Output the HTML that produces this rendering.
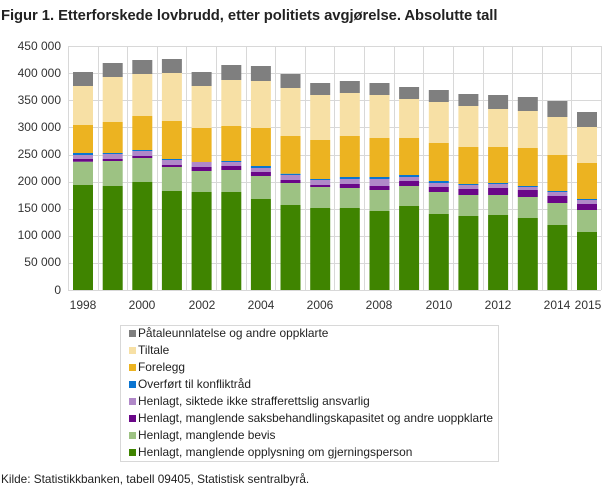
<!DOCTYPE html>
<html><head><meta charset="utf-8"><style>
body{margin:0;background:#fff;width:609px;height:488px;overflow:hidden;font-family:"Liberation Sans",sans-serif;}
</style></head><body>
<svg id="s" width="609" height="488" xmlns="http://www.w3.org/2000/svg" font-family="Liberation Sans, sans-serif">
<text x="1" y="20" font-size="14.8" font-weight="bold" fill="#222" letter-spacing="-0.05">Figur 1. Etterforskede lovbrudd, etter politiets avgjørelse. Absolutte tall</text>
<g id="grid" stroke="#d8d8d8" stroke-width="1"></g>
<g id="bars"></g>
<g font-size="12" fill="#333" text-anchor="end">
<text x="61" y="50">450 000</text><text x="61" y="77">400 000</text><text x="61" y="104">350 000</text><text x="61" y="131">300 000</text><text x="61" y="158">250 000</text><text x="61" y="185">200 000</text><text x="61" y="212">150 000</text><text x="61" y="239">100 000</text><text x="61" y="266">50 000</text><text x="61" y="294">0</text>
</g>
<g font-size="12" fill="#333" text-anchor="middle">
<text x="83" y="309">1998</text><text x="142" y="309">2000</text><text x="202" y="309">2002</text><text x="261" y="309">2004</text><text x="320" y="309">2006</text><text x="379" y="309">2008</text><text x="439" y="309">2010</text><text x="498" y="309">2012</text><text x="557" y="309">2014</text><text x="588" y="309">2015</text>
</g>
<rect x="120.5" y="325.5" width="378" height="136" fill="#fff" stroke="#d8d8d8"/>
<g font-size="11.9" fill="#222">
<rect x="129" y="330" width="7" height="7" fill="#7f7f7f"/><text x="138" y="337">Påtaleunnlatelse og andre oppklarte</text>
<rect x="129" y="347" width="7" height="7" fill="#f7e0a5"/><text x="138" y="354">Tiltale</text>
<rect x="129" y="364" width="7" height="7" fill="#ecb321"/><text x="138" y="371">Forelegg</text>
<rect x="129" y="381" width="7" height="7" fill="#0a74d0"/><text x="138" y="388">Overført til konfliktråd</text>
<rect x="129" y="398" width="7" height="7" fill="#b088c8"/><text x="138" y="405">Henlagt, siktede ikke strafferettslig ansvarlig</text>
<rect x="129" y="415" width="7" height="7" fill="#6a0788"/><text x="138" y="422">Henlagt, manglende saksbehandlingskapasitet og andre uoppklarte</text>
<rect x="129" y="432" width="7" height="7" fill="#9dc283"/><text x="138" y="439">Henlagt, manglende bevis</text>
<rect x="129" y="449" width="7" height="7" fill="#3f8400"/><text x="138" y="456">Henlagt, manglende opplysning om gjerningsperson</text>
</g>
<text x="1" y="483" font-size="11.8" fill="#222">Kilde: Statistikkbanken, tabell 09405, Statistisk sentralbyrå.</text>
</svg>
<script>
var ns="http://www.w3.org/2000/svg";
function el(p,t,a){var e=document.createElementNS(ns,t);for(var k in a)e.setAttribute(k,a[k]);p.appendChild(e);}
var g=document.getElementById('grid');
for(var i=0;i<10;i++){var y=Math.round(290-i*27.1)+0.5;el(g,'line',{x1:68,x2:601,y1:y,y2:y});}
for(var i=0;i<=18;i++){var x=Math.round(68+i*29.61)+0.5;el(g,'line',{x1:x,x2:x,y1:46,y2:290});}
var D=[[465,395,387,375,369,285,168,126],[468,393,387,372,369,276,141,99],[456,384,378,363,360,258,132,90],[483,411,405,390,387,273,129,87],[486,423,411,396,396,294,168,126],[486,420,408,396,393,288,150,105],[507,438,426,414,408,294,153,108],[525,459,450,435,431,318,174,132],[534,471,465,450,447,330,195,159],[534,474,462,447,441,318,189,153],[543,480,468,447,441,324,195,159],[528,468,453,441,435,324,207,171],[552,486,471,459,453,339,216,180],[558,495,477,465,462,351,228,192],[555,495,474,462,459,351,237,195],[564,501,480,471,468,354,243,201],[585,519,498,486,483,375,261,213],[606,540,522,510,507,399,291,246]];
var C=['#3f8400','#9dc283','#6a0788','#b088c8','#0a74d0','#ecb321','#f7e0a5','#7f7f7f'];
var b=document.getElementById('bars');
D.forEach(function(d,i){var x=73+i*29.65;var prev=290;for(var j=0;j<8;j++){var t=30+d[j]/3;if(prev-t>0)el(b,'rect',{x:x.toFixed(1),y:t.toFixed(1),width:20,height:(prev-t).toFixed(1),fill:C[j]});prev=t;}});
</script>
</body></html>
